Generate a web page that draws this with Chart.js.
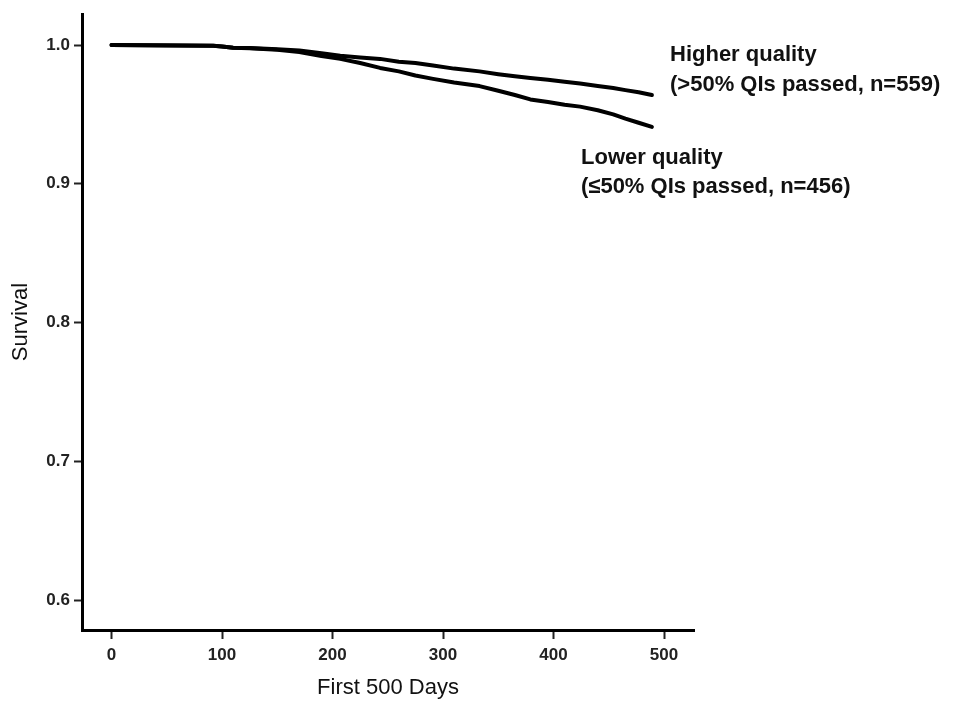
<!DOCTYPE html>
<html>
<head>
<meta charset="utf-8">
<script src="https://cdn.jsdelivr.net/npm/chart.js@4"></script>
<style>
  html, body { margin: 0; padding: 0; background: #fff; }
  #wrap { width: 955px; height: 702px; }
</style>
</head>
<body>
<div id="wrap"><canvas id="kmChart"></canvas></div>
<script>
// days at which the curves drop
const days = [0, 92, 100, 110, 125, 150, 170, 190, 207, 225, 243, 260, 275, 291, 310, 333, 350, 365, 379, 395, 410, 424, 440, 454, 465, 477, 489];
const higherSurvival = [1.0, 0.9995, 0.999, 0.998, 0.9978, 0.997, 0.996, 0.994, 0.9923, 0.991, 0.990, 0.988, 0.987, 0.9852, 0.983, 0.981, 0.979, 0.9775, 0.9763, 0.975, 0.9735, 0.9722, 0.9705, 0.969, 0.9675, 0.966, 0.964];
const lowerSurvival = [1.0, 0.9995, 0.999, 0.998, 0.9976, 0.9965, 0.995, 0.992, 0.990, 0.987, 0.9835, 0.981, 0.978, 0.9756, 0.973, 0.9704, 0.967, 0.964, 0.9608, 0.959, 0.957, 0.9556, 0.953, 0.950, 0.947, 0.944, 0.941];
const xTicks = [0, 100, 200, 300, 400, 500];
const yTicks = [0.6, 0.7, 0.8, 0.9, 1.0];

const tickFont = { family: "'Liberation Sans', Arial, sans-serif", size: 17, weight: 'bold' };
const titleFont = { family: "'Liberation Sans', Arial, sans-serif", size: 22 };

// curve labels drawn next to the lines
const curveLabels = {
    id: 'curveLabels',
    afterDraw(chart) {
        const c = chart.ctx;
        c.save();
        c.fillStyle = '#111';
        c.font = "bold 22px 'Liberation Sans', Arial, sans-serif";
        c.textBaseline = 'middle';
        c.textAlign = 'left';
        c.fillText('Higher quality', 670, 55);
        c.fillText('(>50% QIs passed, n=559)', 670, 85);
        c.fillText('Lower quality', 581, 158);
        c.fillText('(\u226450% QIs passed, n=456)', 581, 187);
        c.restore();
    }
};

const lineStyle = {
    borderColor: '#000',
    borderWidth: 4,
    borderCapStyle: 'round',
    borderJoinStyle: 'round',
    tension: 0,
    pointRadius: 0,
    fill: false
};

new Chart(document.getElementById('kmChart'), {
    type: 'line',
    data: {
        datasets: [
            Object.assign({ label: 'Higher quality', data: days.map((d, i) => ({ x: d, y: higherSurvival[i] })) }, lineStyle),
            Object.assign({ label: 'Lower quality', data: days.map((d, i) => ({ x: d, y: lowerSurvival[i] })) }, lineStyle)
        ]
    },
    options: {
        responsive: true,
        maintainAspectRatio: false,
        animation: false,
        layout: { padding: { top: 11, right: 261, left: 0, bottom: 0 } },
        plugins: {
            legend: { display: false },
            tooltip: { enabled: false }
        },
        scales: {
            x: {
                type: 'linear',
                min: -26.7,
                max: 527.1,
                afterBuildTicks: s => { s.ticks = xTicks.map(v => ({ value: v })); },
                afterFit: s => { s.height = 72; },
                border: { display: true, color: '#000', width: 3 },
                grid: { drawOnChartArea: false, drawTicks: true, tickLength: 9, tickWidth: 2, tickColor: '#222' },
                ticks: { color: '#222', font: tickFont, padding: 6, maxRotation: 0 },
                title: { display: true, text: 'First 500 Days', color: '#111', font: titleFont, padding: { top: 0, bottom: 1 } }
            },
            y: {
                min: 0.5785,
                max: 1.0222,
                afterBuildTicks: s => { s.ticks = yTicks.map(v => ({ value: v })); },
                afterFit: s => { s.width = 82; },
                border: { display: true, color: '#000', width: 3 },
                grid: { drawOnChartArea: false, drawTicks: true, tickLength: 8, tickWidth: 2, tickColor: '#222' },
                ticks: { color: '#222', font: tickFont, padding: 4, callback: v => v.toFixed(1) },
                title: { display: true, text: 'Survival', color: '#111', font: titleFont, padding: { top: 7.5, bottom: 0 } }
            }
        }
    },
    plugins: [curveLabels]
});
</script>
</body>
</html>
